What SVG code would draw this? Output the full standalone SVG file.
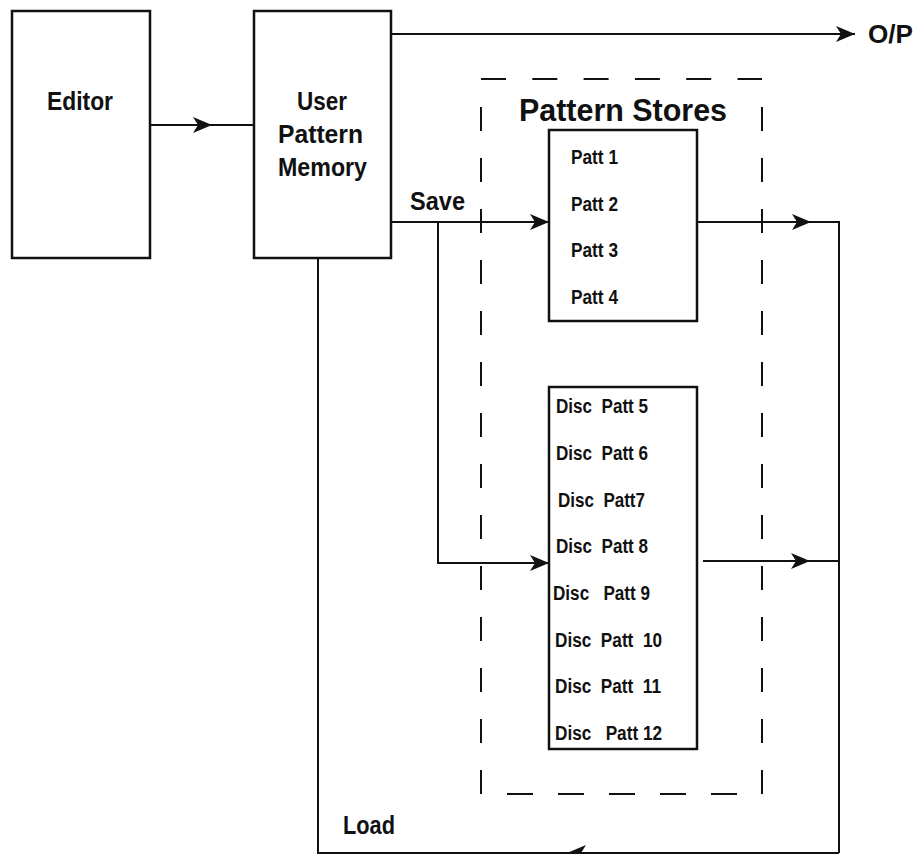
<svg xmlns="http://www.w3.org/2000/svg" width="918" height="854" viewBox="0 0 918 854" xml:space="preserve">
<style>
.box{fill:#fff;stroke:#111;stroke-width:2.5}
.ln{fill:none;stroke:#111;stroke-width:2}
.dash{fill:none;stroke:#111;stroke-width:2}
text{font-family:"Liberation Sans",Arial,sans-serif;font-weight:bold;fill:#111;white-space:pre}
.big{font-size:26px}
.ttl{font-size:32px}
.sm{font-size:19.5px}
</style>
<defs>
<marker id="ah" markerUnits="userSpaceOnUse" markerWidth="22" markerHeight="18" refX="19" refY="8" orient="auto">
<path d="M0,0 L19,8 L0,16 L5,8 z" fill="#111"/>
</marker>
</defs>
<rect width="918" height="854" fill="#fff"/>
<g id="pattern-stores">
<path class="dash" d="M481,79 H762" stroke-dasharray="25,26.3"/>
<path class="dash" d="M481,107 V794" stroke-dasharray="24,27"/>
<path class="dash" d="M762,107 V794" stroke-dasharray="24,27"/>
<path class="dash" d="M507,794 H738" stroke-dasharray="26,25"/>
<text class="ttl" x="519" y="121" textLength="208" lengthAdjust="spacingAndGlyphs">Pattern Stores</text>
</g>
<g id="connectors">
<path class="ln" d="M150,125 H212" marker-end="url(#ah)"/>
<path class="ln" d="M212,125 H254"/>
<path class="ln" d="M391,34 H855" marker-end="url(#ah)"/>
<path class="ln" d="M391,222 H549" marker-end="url(#ah)"/>
<path class="ln" d="M438,222 V563 H549" marker-end="url(#ah)"/>
<path class="ln" d="M697,222 H811" marker-end="url(#ah)"/>
<path class="ln" d="M811,222 H839 V853"/>
<path class="ln" d="M703,561 H810" marker-end="url(#ah)"/>
<path class="ln" d="M810,561 H839"/>
<path class="ln" d="M839,853 H567" marker-end="url(#ah)"/>
<path class="ln" d="M567,853 H318 V258"/>
</g>
<g id="editor">
<rect class="box" x="12" y="11" width="138" height="247"/>
<text class="big" x="47" y="110" textLength="66" lengthAdjust="spacingAndGlyphs">Editor</text>
</g>
<g id="user-pattern-memory">
<rect class="box" x="254" y="11" width="137" height="247"/>
<text class="big" x="297" y="110" textLength="50" lengthAdjust="spacingAndGlyphs">User</text>
<text class="big" x="278" y="143" textLength="85" lengthAdjust="spacingAndGlyphs">Pattern</text>
<text class="big" x="278" y="176" textLength="89" lengthAdjust="spacingAndGlyphs">Memory</text>
</g>
<g id="labels">
<text class="big" x="868" y="43" textLength="45" lengthAdjust="spacingAndGlyphs">O/P</text>
<text class="big" x="410" y="210" textLength="55" lengthAdjust="spacingAndGlyphs">Save</text>
<text class="big" x="343" y="834" textLength="52" lengthAdjust="spacingAndGlyphs">Load</text>
</g>
<g id="patt-box">
<rect class="box" x="549" y="130" width="148" height="191"/>
<text class="sm" x="571" y="164" textLength="47" lengthAdjust="spacingAndGlyphs">Patt 1</text>
<text class="sm" x="571" y="211" textLength="47" lengthAdjust="spacingAndGlyphs">Patt 2</text>
<text class="sm" x="571" y="257" textLength="47" lengthAdjust="spacingAndGlyphs">Patt 3</text>
<text class="sm" x="571" y="304" textLength="47" lengthAdjust="spacingAndGlyphs">Patt 4</text>
</g>
<g id="disc-box">
<rect class="box" x="549" y="387" width="148" height="362"/>
<text class="sm" x="556" y="413" textLength="92" lengthAdjust="spacingAndGlyphs">Disc  Patt 5</text>
<text class="sm" x="556" y="460" textLength="92" lengthAdjust="spacingAndGlyphs">Disc  Patt 6</text>
<text class="sm" x="558" y="507" textLength="87" lengthAdjust="spacingAndGlyphs">Disc  Patt7</text>
<text class="sm" x="556" y="553" textLength="92" lengthAdjust="spacingAndGlyphs">Disc  Patt 8</text>
<text class="sm" x="553" y="600" textLength="97" lengthAdjust="spacingAndGlyphs">Disc   Patt 9</text>
<text class="sm" x="555" y="647" textLength="107" lengthAdjust="spacingAndGlyphs">Disc  Patt  10</text>
<text class="sm" x="555" y="693" textLength="106" lengthAdjust="spacingAndGlyphs">Disc  Patt  11</text>
<text class="sm" x="555" y="740" textLength="107" lengthAdjust="spacingAndGlyphs">Disc   Patt 12</text>
</g>
</svg>
